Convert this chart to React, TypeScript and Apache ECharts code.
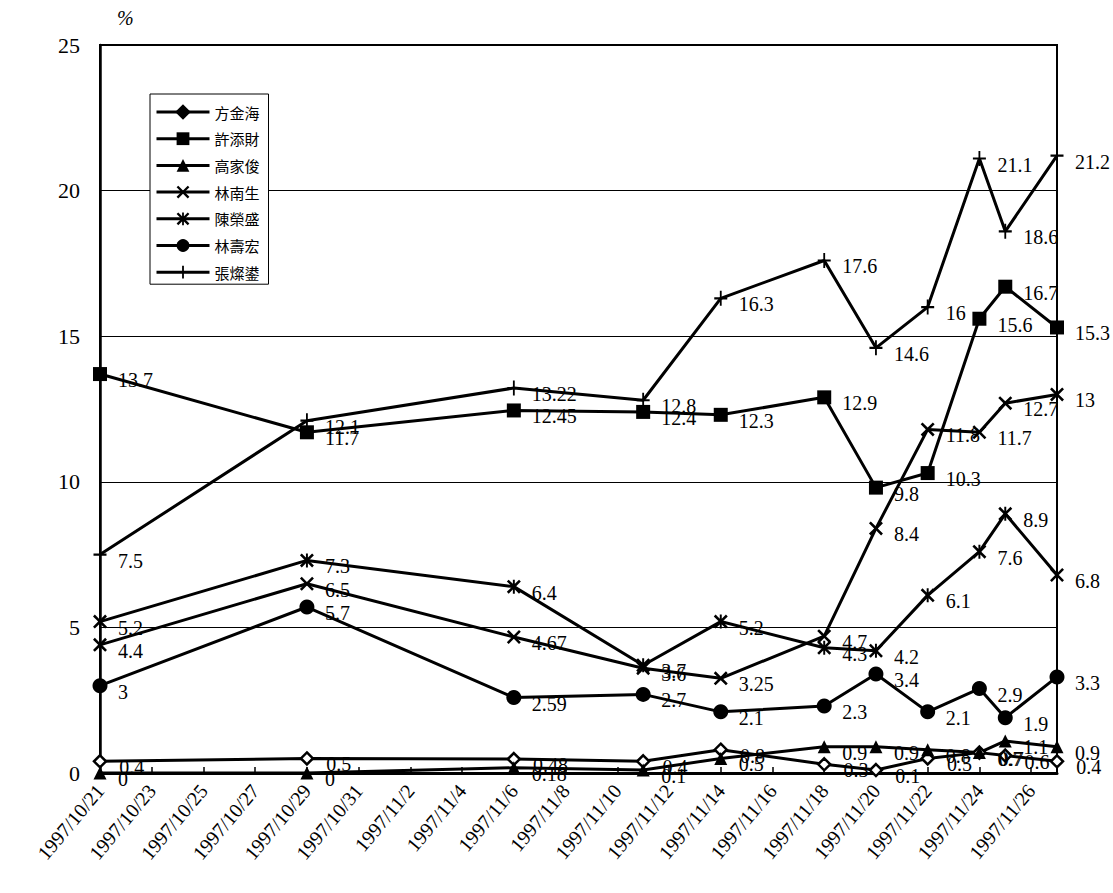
import React, { useEffect, useRef } from "react";
import * as echarts from "echarts";

// Polling dates and each candidate's share (%)
const dates = [
  "1997/10/21", "1997/10/29", "1997/11/6", "1997/11/11", "1997/11/14", "1997/11/18",
  "1997/11/20", "1997/11/22", "1997/11/24", "1997/11/25", "1997/11/27",
];

const fangJinhai = [0.4, 0.5, 0.48, 0.4, 0.8, 0.3, 0.1, 0.5, 0.7, 0.6, 0.4];
const xuTiancai = [13.7, 11.7, 12.45, 12.4, 12.3, 12.9, 9.8, 10.3, 15.6, 16.7, 15.3];
const gaoJiajun = [0, 0, 0.18, 0.1, 0.5, 0.9, 0.9, 0.8, 0.7, 1.1, 0.9];
const linNansheng = [4.4, 6.5, 4.67, 3.6, 3.25, 4.7, 8.4, 11.8, 11.7, 12.7, 13];
const chenRongsheng = [5.2, 7.3, 6.4, 3.7, 5.2, 4.3, 4.2, 6.1, 7.6, 8.9, 6.8];
const linShouhong = [3, 5.7, 2.59, 2.7, 2.1, 2.3, 3.4, 2.1, 2.9, 1.9, 3.3];
const zhangCanhong = [7.5, 12.1, 13.22, 12.8, 16.3, 17.6, 14.6, 16, 21.1, 18.6, 21.2];

const seriesNames = ["方金海", "許添財", "高家俊", "林南生", "陳榮盛", "林壽宏", "張燦鍙"];

const yTicks = { min: 0, max: 25, interval: 5 };

const DAY = 86400000;
const origin = Date.UTC(1997, 9, 21);
const lastDay = Math.round((Date.UTC(1997, 10, 27) - origin) / DAY);

function dayOffset(s: string): number {
  const [y, m, d] = s.split("/").map(Number);
  return Math.round((Date.UTC(y, m - 1, d) - origin) / DAY);
}

function dayLabel(v: number): string {
  const dt = new Date(origin + v * DAY);
  return `${dt.getUTCFullYear()}/${dt.getUTCMonth() + 1}/${dt.getUTCDate()}`;
}

const crossPath =
  "path://M0,1.3L1.3,0L5,3.7L8.7,0L10,1.3L6.3,5L10,8.7L8.7,10L5,6.3L1.3,10L0,8.7L3.7,5Z";
const starPath =
  "path://M0,1.3L1.3,0L5,3.7L8.7,0L10,1.3L6.3,5L10,8.7L8.7,10L5,6.3L1.3,10L0,8.7L3.7,5Z M4.3,0L5.7,0L5.7,10L4.3,10Z";
const plusPath =
  "path://M4.3,0L5.7,0L5.7,4.3L10,4.3L10,5.7L5.7,5.7L5.7,10L4.3,10L4.3,5.7L0,5.7L0,4.3L4.3,4.3Z";

const SERIF = "'Liberation Serif', 'Times New Roman', serif";
const CJK = "'Noto Sans CJK TC', 'Noto Sans CJK SC', sans-serif";

export default function App() {
  const ref = useRef<HTMLDivElement>(null);

  useEffect(() => {
    document.body.style.margin = "0";
    if (!ref.current) return;
    const chart = echarts.init(ref.current, undefined, { renderer: "svg" });

    const styles = [
      { values: fangJinhai, symbol: "diamond", size: 12, fill: "#fff" },
      { values: xuTiancai, symbol: "rect", size: 14, fill: "#000" },
      { values: gaoJiajun, symbol: "triangle", size: 13, fill: "#000" },
      { values: linNansheng, symbol: crossPath, size: 14, fill: "#000" },
      { values: chenRongsheng, symbol: starPath, size: 14, fill: "#000" },
      { values: linShouhong, symbol: "circle", size: 15, fill: "#000" },
      { values: zhangCanhong, symbol: plusPath, size: [13, 15], fill: "#000" },
    ];

    const series = styles.map((s, i) => {
      const half = Array.isArray(s.size) ? s.size[0] / 2 : (s.size as number) / 2;
      return {
        name: seriesNames[i],
        type: "line",
        data: dates.map((d, k) => [dayOffset(d), s.values[k]]),
        symbol: s.symbol,
        symbolSize: s.size,
        showAllSymbol: true,
        lineStyle: { color: "#000", width: 3 },
        itemStyle: {
          color: s.fill,
          borderColor: "#000",
          borderWidth: s.fill === "#fff" ? 2.5 : 0,
        },
        label: {
          show: true,
          position: "right",
          distance: Math.max(2, 18 - half),
          offset: [0, 6],
          color: "#000",
          fontFamily: SERIF,
          fontSize: 20,
          formatter: (p: any) => String(p.value[1]),
        },
        emphasis: { disabled: true },
        z: 2,
      };
    });

    chart.setOption({
      animation: false,
      backgroundColor: "#fff",
      grid: {
        left: 100,
        right: 56,
        top: 45,
        bottom: 120,
        show: true,
        borderColor: "#000",
        borderWidth: 2,
        backgroundColor: "transparent",
      },
      legend: {
        orient: "vertical",
        left: 150,
        top: 94,
        itemWidth: 53,
        itemHeight: 16,
        itemGap: 10.7,
        padding: [10, 9, 4, 5],
        backgroundColor: "#fff",
        borderColor: "#000",
        borderWidth: 1,
        borderRadius: 0,
        lineStyle: { width: 3, color: "#000" },
        textStyle: { fontFamily: CJK, fontSize: 15, color: "#000", lineHeight: 16 },
        data: seriesNames.map((n) => ({ name: n, itemStyle: { color: "#000" } })),
        selectedMode: false,
      },
      xAxis: {
        type: "value",
        min: 0,
        max: lastDay,
        interval: 2,
        axisLine: { show: true, onZero: false, lineStyle: { color: "#000", width: 3 } },
        axisTick: { show: true, inside: true, length: 6, lineStyle: { color: "#000", width: 1.5 } },
        splitLine: { show: false },
        axisLabel: {
          rotate: 50,
          margin: 14,
          showMaxLabel: false,
          color: "#000",
          fontFamily: SERIF,
          fontSize: 20,
          formatter: (v: number) => dayLabel(v),
        },
      },
      yAxis: {
        type: "value",
        min: yTicks.min,
        max: yTicks.max,
        interval: yTicks.interval,
        axisLine: { show: true, lineStyle: { color: "#000", width: 2.5 } },
        axisTick: { show: false },
        splitLine: { show: true, lineStyle: { color: "#000", width: 1 } },
        axisLabel: { margin: 20, color: "#000", fontFamily: SERIF, fontSize: 22 },
      },
      graphic: [
        {
          type: "text",
          left: 117,
          top: 8,
          style: { text: "%", fontFamily: SERIF, fontSize: 20, fontStyle: "italic", fill: "#000" },
        },
      ],
      series,
    });

    return () => chart.dispose();
  }, []);

  return <div ref={ref} style={{ width: 1113, height: 893 }} />;
}
